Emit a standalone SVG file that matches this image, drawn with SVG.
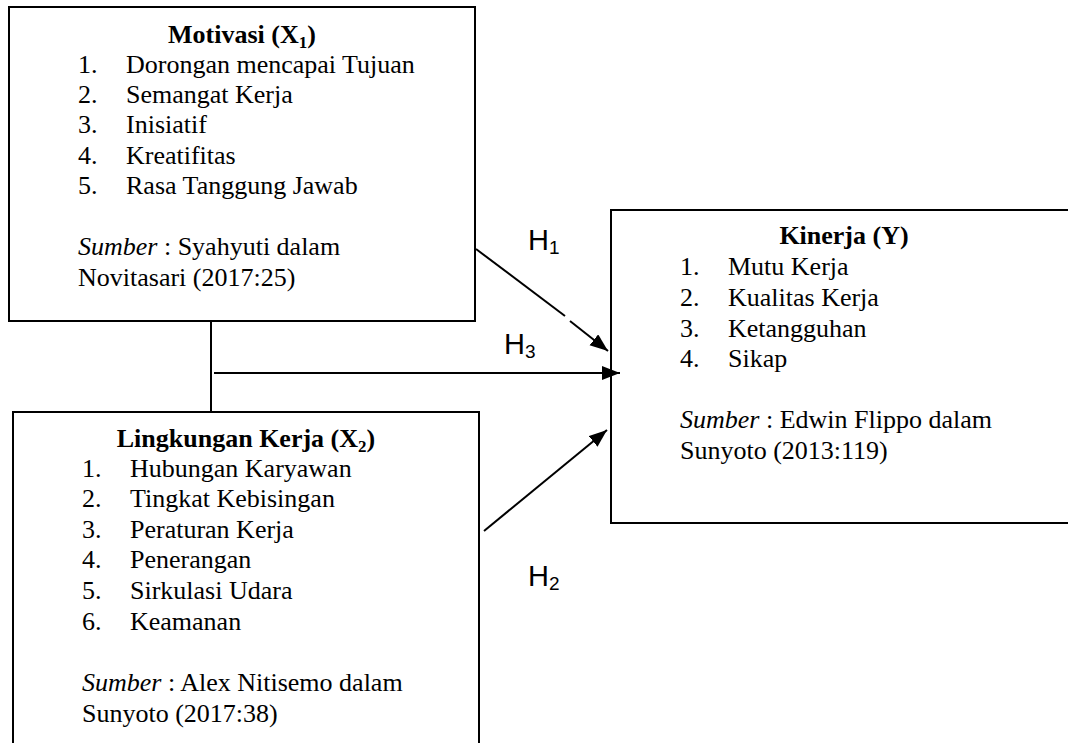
<svg xmlns="http://www.w3.org/2000/svg" width="1068" height="743" viewBox="0 0 1068 743">
<style>
.box{fill:#fff;stroke:#000;stroke-width:2}
.t{font-family:"Liberation Serif","Times New Roman",serif;font-size:26px;fill:#000}
.b{font-weight:bold}
.h{font-family:"Liberation Sans",Arial,sans-serif;font-size:29px;fill:#000}
.ln{stroke:#000;stroke-width:2;fill:none}
</style>
<defs>
<marker id="ah" markerUnits="userSpaceOnUse" markerWidth="20" markerHeight="16" refX="18" refY="7" orient="auto">
<path d="M0,0 L18,7 L0,14 Z" fill="#000"/>
</marker>
</defs>
<rect width="1068" height="743" fill="#fff"/>
<g id="motivasi">
<rect class="box" x="9" y="7" width="466" height="314"/>
<text class="t b" x="242" y="43" text-anchor="middle">Motivasi (X<tspan font-size="17" dy="5">1</tspan><tspan dy="-5">)</tspan></text>
<text class="t" x="78" y="73">1.</text><text class="t" x="126" y="73">Dorongan mencapai Tujuan</text>
<text class="t" x="78" y="103">2.</text><text class="t" x="126" y="103">Semangat Kerja</text>
<text class="t" x="78" y="133">3.</text><text class="t" x="126" y="133">Inisiatif</text>
<text class="t" x="78" y="164">4.</text><text class="t" x="126" y="164">Kreatifitas</text>
<text class="t" x="78" y="194">5.</text><text class="t" x="126" y="194">Rasa Tanggung Jawab</text>
<text class="t" x="78" y="255"><tspan font-style="italic">Sumber</tspan> : Syahyuti dalam</text>
<text class="t" x="78" y="286">Novitasari (2017:25)</text>
</g>
<g id="lingkungan">
<rect class="box" x="13" y="412" width="466" height="345"/>
<text class="t b" x="246" y="447" text-anchor="middle">Lingkungan Kerja (X<tspan font-size="17" dy="5">2</tspan><tspan dy="-5">)</tspan></text>
<text class="t" x="82" y="477">1.</text><text class="t" x="130" y="477">Hubungan Karyawan</text>
<text class="t" x="82" y="507">2.</text><text class="t" x="130" y="507">Tingkat Kebisingan</text>
<text class="t" x="82" y="538">3.</text><text class="t" x="130" y="538">Peraturan Kerja</text>
<text class="t" x="82" y="568">4.</text><text class="t" x="130" y="568">Penerangan</text>
<text class="t" x="82" y="599">5.</text><text class="t" x="130" y="599">Sirkulasi Udara</text>
<text class="t" x="82" y="630">6.</text><text class="t" x="130" y="630">Keamanan</text>
<text class="t" x="82" y="691"><tspan font-style="italic">Sumber</tspan> : Alex Nitisemo dalam</text>
<text class="t" x="82" y="722">Sunyoto (2017:38)</text>
</g>
<g id="kinerja">
<rect class="box" x="611" y="210" width="470" height="313"/>
<text class="t b" x="844" y="244" text-anchor="middle">Kinerja (Y)</text>
<text class="t" x="680" y="275">1.</text><text class="t" x="728" y="275">Mutu Kerja</text>
<text class="t" x="680" y="306">2.</text><text class="t" x="728" y="306">Kualitas Kerja</text>
<text class="t" x="680" y="337">3.</text><text class="t" x="728" y="337">Ketangguhan</text>
<text class="t" x="680" y="367">4.</text><text class="t" x="728" y="367">Sikap</text>
<text class="t" x="680" y="428"><tspan font-style="italic">Sumber</tspan> : Edwin Flippo dalam</text>
<text class="t" x="680" y="459">Sunyoto (2013:119)</text>
</g>
<g id="connectors">
<line class="ln" x1="211" y1="321" x2="211" y2="412"/>
<line class="ln" x1="214" y1="373" x2="620" y2="373" marker-end="url(#ah)"/>
<line class="ln" x1="476" y1="249" x2="565" y2="316"/>
<line class="ln" x1="570" y1="321" x2="608" y2="351" marker-end="url(#ah)"/>
<line class="ln" x1="484" y1="531" x2="607" y2="430" marker-end="url(#ah)"/>
</g>
<g id="labels">
<text class="h" x="528" y="250">H<tspan font-size="19" dy="4">1</tspan></text>
<text class="h" x="504" y="354">H<tspan font-size="19" dy="4">3</tspan></text>
<text class="h" x="528" y="586">H<tspan font-size="19" dy="4">2</tspan></text>
</g>
</svg>
